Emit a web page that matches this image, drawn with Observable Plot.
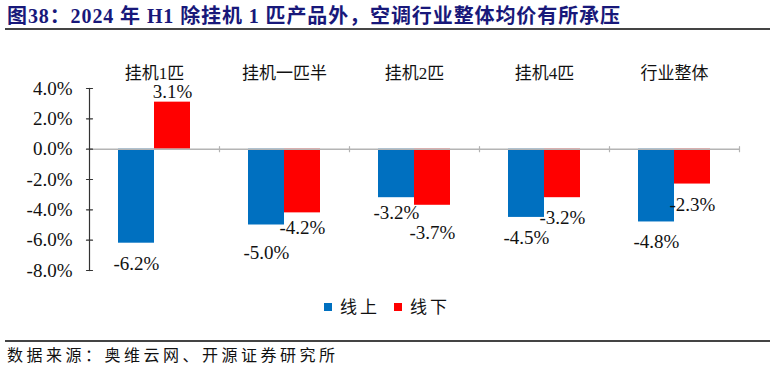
<!DOCTYPE html>
<html>
<head>
<meta charset="utf-8">
<script src="https://cdn.jsdelivr.net/npm/d3@7"></script>
<script src="https://cdn.jsdelivr.net/npm/@observablehq/plot@0.6"></script>
<style>
  html, body { margin: 0; padding: 0; background: #fff; }
  body { width: 774px; height: 372px; position: relative; overflow: hidden;
         font-family: "Liberation Serif", "Noto Sans CJK SC", serif; }
  #title { position: absolute; left: 7px; top: 4px; font-size: 20px; font-weight: bold;
           color: #18187a; line-height: 24px; white-space: nowrap; letter-spacing: 0.9px; }
  #tline { position: absolute; left: 5px; top: 28px; width: 765px; height: 2px; background: #444; }
  #chart { position: absolute; left: 0; top: 40px; }
  #legend { position: absolute; left: 0; top: 293px; width: 774px; text-align: center;
            font-size: 17px; color: #111; letter-spacing: 3px; }
  #legend span.item { display: inline-block; margin: 0 7px; }
  #legend i { display: inline-block; width: 8px; height: 8px; margin-right: 8px; vertical-align: 2px; }
  #bline { position: absolute; left: 5px; top: 340px; width: 765px; height: 1.5px; background: #444; }
  #source { position: absolute; left: 7px; top: 345px; font-size: 16px; letter-spacing: 3.5px;
            color: #111; line-height: 22px; white-space: nowrap; }
</style>
</head>
<body>
<div id="title">图38：2024 年 H1 除挂机 1 匹产品外，空调行业整体均价有所承压</div>
<div id="tline"></div>
<div id="chart"></div>
<div id="legend"></div>
<div id="bline"></div>
<div id="source">数据来源：奥维云网、开源证券研究所</div>
<script>
const categories = ["挂机1匹", "挂机一匹半", "挂机2匹", "挂机4匹", "行业整体"];
const series = ["线上", "线下"];
const onlineValues = [-6.2, -5.0, -3.2, -4.5, -4.8];
const offlineValues = [3.1, -4.2, -3.7, -3.2, -2.3];
const yTicks = [-8, -6, -4, -2, 0, 2, 4];
const colors = ["#0070C0", "#FF0000"];

const data = [];
categories.forEach((c, i) => {
  const close = onlineValues[i] < 0 && offlineValues[i] < 0 &&
                Math.abs(onlineValues[i] - offlineValues[i]) < 1;
  data.push({cat: c, series: series[0], value: onlineValues[i],
             shift: close ? (onlineValues[i] > offlineValues[i] ? "up" : "down") : "none"});
  data.push({cat: c, series: series[1], value: offlineValues[i],
             shift: close ? (offlineValues[i] > onlineValues[i] ? "up" : "down") : "none"});
});

const numFont = "Liberation Serif, Noto Sans CJK SC, serif";
const fmt = d => d.value.toFixed(1) + "%";

// custom vector shape: a plain line of the given length
const lineShape = {draw(context, l) { context.moveTo(0, 0); context.lineTo(0, -l); }};

const negLabel = (shift, dy) => Plot.text(
  data.filter(d => d.value < 0 && d.shift === shift), {
    fx: "cat", x: "series", y: "value", text: fmt,
    lineAnchor: "top", dy, fontSize: 19, fill: "#111"
  });

const chart = Plot.plot({
  width: 774,
  height: 250,
  marginLeft: 89,
  marginRight: 35,
  marginTop: 48,
  marginBottom: 20,
  style: {fontFamily: numFont, fontSize: "19px", color: "#111", background: "transparent"},
  fx: {domain: categories, padding: 0, axis: null, label: null},
  x: {domain: series, paddingInner: 0, paddingOuter: 0.757, axis: null, label: null},
  y: {domain: [-8, 4], ticks: yTicks, tickFormat: d => d.toFixed(1) + "%", tickSize: 0, tickPadding: 17, label: null},
  color: {domain: series, range: colors},
  marks: [
    Plot.barY(data, {fx: "cat", x: "series", y: "value", fill: "series"}),
    // zero baseline (one segment per category, they join)
    Plot.ruleY([0], {stroke: "#b4b4b4", strokeWidth: 1.5}),
    // small ticks at category boundaries, pointing up from the baseline
    Plot.vector([0], {y: d => d, frameAnchor: "right", length: 5, rotate: 0,
                      shape: lineShape, stroke: "#b4b4b4", strokeWidth: 1.2}),
    // y axis line and inward ticks (leftmost category only)
    Plot.frame({anchor: "left", facetAnchor: "left", stroke: "#333", strokeWidth: 1.2}),
    Plot.vector(yTicks, {y: d => d, frameAnchor: "left", length: 6, rotate: 90,
                         shape: lineShape, stroke: "#333", strokeWidth: 1.2, facetAnchor: "left"}),
    Plot.text(data.filter(d => d.value >= 0), {
      fx: "cat", x: "series", y: "value", text: fmt,
      lineAnchor: "bottom", dy: -4, fontSize: 19, fill: "#111"
    }),
    negLabel("none", 13),
    negLabel("up", 8),
    negLabel("down", 20),
    Plot.text(categories, {
      fx: d => d, text: d => d, frameAnchor: "top", dy: -22,
      fontSize: 17, fill: "#111", style: "letter-spacing: 4px"
    })
  ]
});
document.getElementById("chart").appendChild(chart);

const legend = document.getElementById("legend");
series.forEach((s, i) => {
  const span = document.createElement("span");
  span.className = "item";
  const sw = document.createElement("i");
  sw.style.background = colors[i];
  span.appendChild(sw);
  span.appendChild(document.createTextNode(s));
  legend.appendChild(span);
});
</script>
</body>
</html>
